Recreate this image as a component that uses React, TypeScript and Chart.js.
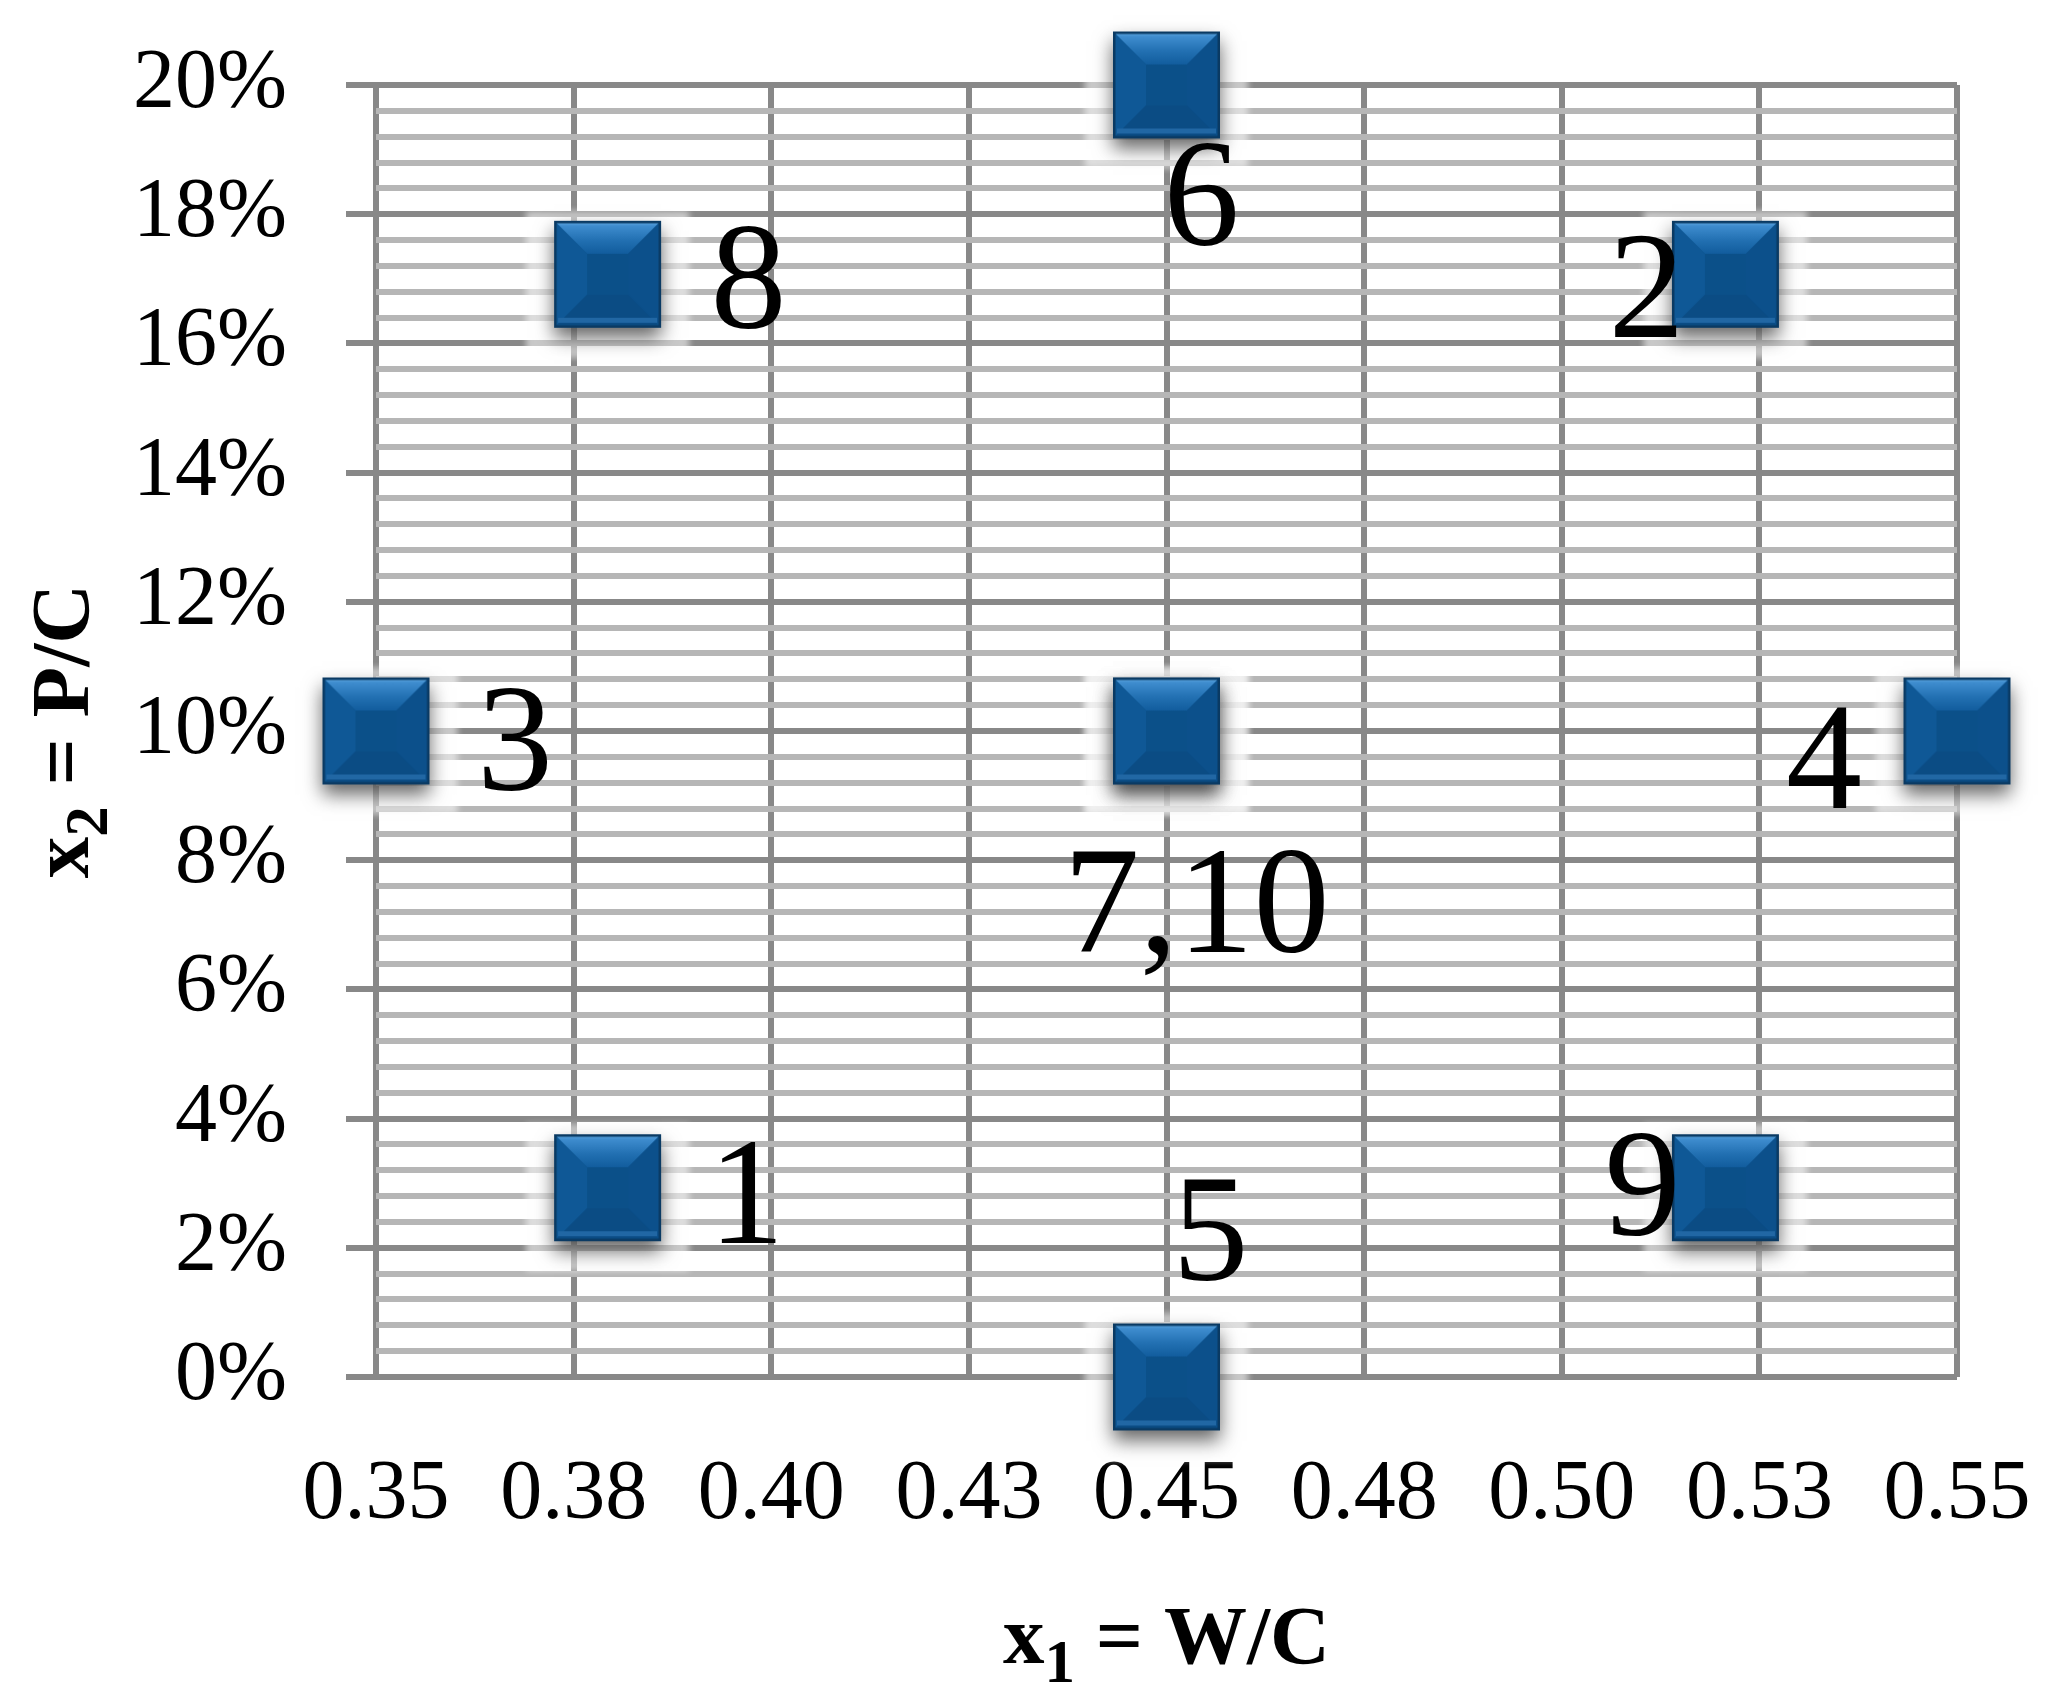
import React, { useEffect, useRef } from "react";
import { Chart, registerables } from "chart.js";

Chart.register(...registerables);

// ---- Data (central composite design runs) ----
const runLabels = ["1", "2", "3", "4", "5", "6", "7,10", "8", "9", ""];
const wcRatio = [0.3793, 0.5207, 0.35, 0.55, 0.45, 0.45, 0.45, 0.3793, 0.5207, 0.45];
const pcPercent = [2.93, 17.07, 10, 10, 0, 20, 10, 17.07, 2.93, 10];

const xTickValues = [0.35, 0.375, 0.4, 0.425, 0.45, 0.475, 0.5, 0.525, 0.55];
const xTickLabels = ["0.35", "0.38", "0.40", "0.43", "0.45", "0.48", "0.50", "0.53", "0.55"];
const yTickValues = [0, 2, 4, 6, 8, 10, 12, 14, 16, 18, 20];
const yTickLabels = ["0%", "2%", "4%", "6%", "8%", "10%", "12%", "14%", "16%", "18%", "20%"];
const yMinorStep = 0.4;

// label placement (pixel offsets from each marker centre)
const labelDx = [139, -79, 139, -133, 44, 35, 30, 141, -83, 0];
const labelDy = [15, 23, 19, 37, -137, 120, 181, 14, 7, 0];

// ---- Layout / style ----
const W = 2052;
const H = 1707;
const PLOT_LEFT = 376;
const PLOT_RIGHT = 1957;
const PLOT_TOP = 85;
const PLOT_BOTTOM = 1377;
const FONT = '"Liberation Serif", "Times New Roman", serif';
const TICK_SIZE = 84;
const LABEL_SIZE = 152;
const TITLE_SIZE = 83;
const MAJOR = "#888888";
const MINOR = "#b6b6b6";

const isMajorY = (v: number) => Math.abs(v / 2 - Math.round(v / 2)) < 1e-6;

function makeMarker(): HTMLCanvasElement {
  const s = 107;
  const pad = 46;
  const size = s + pad * 2;
  const c = document.createElement("canvas");
  c.width = size;
  c.height = size;
  const g = c.getContext("2d")!;
  const x0 = pad;
  const y0 = pad;
  // soft white halo
  g.save();
  g.filter = "blur(3px)";
  g.fillStyle = "rgba(255,255,255,0.55)";
  g.fillRect(x0 - 28, y0 - 10, s + 56, s + 40);
  g.restore();
  // drop shadow
  g.save();
  g.shadowColor = "rgba(0,0,0,0.6)";
  g.shadowBlur = 18;
  g.shadowOffsetY = 10;
  g.fillStyle = "#0b4f88";
  g.fillRect(x0, y0, s, s);
  g.restore();
  const b = 33;
  const poly = (pts: number[][], fill: string | CanvasGradient) => {
    g.beginPath();
    g.moveTo(pts[0][0], pts[0][1]);
    for (let i = 1; i < pts.length; i++) g.lineTo(pts[i][0], pts[i][1]);
    g.closePath();
    g.fillStyle = fill;
    g.fill();
  };
  const grd = g.createLinearGradient(0, y0, 0, y0 + b);
  grd.addColorStop(0, "#6fb2e6");
  grd.addColorStop(0.15, "#3f8dcf");
  grd.addColorStop(0.6, "#2270b2");
  grd.addColorStop(1, "#125d9e");
  poly([[x0, y0], [x0 + s, y0], [x0 + s - b, y0 + b], [x0 + b, y0 + b]], grd);
  poly([[x0, y0], [x0 + b, y0 + b], [x0 + b, y0 + s - b], [x0, y0 + s]], "#0f5896");
  poly([[x0 + s, y0], [x0 + s, y0 + s], [x0 + s - b, y0 + s - b], [x0 + s - b, y0 + b]], "#0c508b");
  poly([[x0, y0 + s], [x0 + b, y0 + s - b], [x0 + s - b, y0 + s - b], [x0 + s, y0 + s]], "#0b4c84");
  g.fillStyle = "#0b5089";
  g.fillRect(x0 + b, y0 + b, s - 2 * b, s - 2 * b);
  g.fillStyle = "#2167a4";
  g.fillRect(x0 + 4, y0 + s - 10, s - 8, 5);
  g.strokeStyle = "#0a3a63";
  g.lineWidth = 2.5;
  g.strokeRect(x0 + 1.25, y0 + 1.25, s - 2.5, s - 2.5);
  return c;
}

function drawSubTitle(
  ctx: CanvasRenderingContext2D,
  cx: number,
  baseY: number,
  main: string,
  sub: string,
  rest: string
) {
  const big = `bold ${TITLE_SIZE}px ${FONT}`;
  const small = `bold ${Math.round(TITLE_SIZE * 0.74)}px ${FONT}`;
  ctx.font = big;
  const w1 = ctx.measureText(main).width;
  const w3 = ctx.measureText(rest).width;
  ctx.font = small;
  const w2 = ctx.measureText(sub).width;
  const total = w1 + w2 + w3;
  let x = cx - total / 2;
  ctx.textAlign = "left";
  ctx.textBaseline = "alphabetic";
  ctx.fillStyle = "#000";
  ctx.font = big;
  ctx.fillText(main, x, baseY);
  x += w1;
  ctx.font = small;
  ctx.fillText(sub, x, baseY + 19);
  x += w2;
  ctx.font = big;
  ctx.fillText(rest, x, baseY);
}

const annotPlugin = {
  id: "annot",
  afterDatasetsDraw(chart: any) {
    const ctx: CanvasRenderingContext2D = chart.ctx;
    const meta = chart.getDatasetMeta(0);
    ctx.save();
    ctx.fillStyle = "#000";
    ctx.font = `${LABEL_SIZE}px ${FONT}`;
    ctx.textAlign = "center";
    ctx.textBaseline = "middle";
    meta.data.forEach((el: any, i: number) => {
      if (runLabels[i]) ctx.fillText(runLabels[i], el.x + labelDx[i], el.y + labelDy[i]);
    });
    ctx.restore();
  },
  afterDraw(chart: any) {
    const ctx: CanvasRenderingContext2D = chart.ctx;
    const area = chart.chartArea;
    ctx.save();
    drawSubTitle(ctx, (area.left + area.right) / 2, 1663, "x", "1", " = W/C");
    ctx.restore();
    ctx.save();
    ctx.translate(88, (area.top + area.bottom) / 2);
    ctx.rotate(-Math.PI / 2);
    drawSubTitle(ctx, 0, 0, "x", "2", " = P/C");
    ctx.restore();
  },
};

export default function App() {
  const ref = useRef<HTMLCanvasElement | null>(null);
  useEffect(() => {
    if (!ref.current) return;
    const marker = makeMarker();
    const points = wcRatio.map((x, i) => ({ x, y: pcPercent[i] }));
    const chart = new Chart(ref.current, {
      type: "scatter",
      data: {
        datasets: [
          {
            data: points,
            pointStyle: marker as any,
            pointRadius: 54,
            pointHoverRadius: 54,
            showLine: false,
            clip: false as any,
          },
        ],
      },
      options: {
        responsive: false,
        animation: false,
        events: [],
        layout: {
          padding: { top: PLOT_TOP, right: W - PLOT_RIGHT, bottom: 0, left: 0 },
        },
        plugins: {
          legend: { display: false },
          tooltip: { enabled: false },
        },
        scales: {
          x: {
            type: "linear",
            min: xTickValues[0],
            max: xTickValues[xTickValues.length - 1],
            afterBuildTicks: (axis: any) => {
              axis.ticks = xTickValues.map((v) => ({ value: v }));
            },
            afterFit: (axis: any) => {
              axis.height = H - PLOT_BOTTOM;
              axis.paddingLeft = 0;
              axis.paddingRight = 0;
            },
            grid: {
              color: MAJOR,
              lineWidth: 6,
              drawTicks: false,
            },
            border: { display: false },
            ticks: {
              autoSkip: false,
              maxRotation: 0,
              minRotation: 0,
              padding: 69,
              color: "#000",
              font: { family: FONT, size: TICK_SIZE },
              callback: (_v: any, i: number) => xTickLabels[i],
            },
            title: { display: false },
          },
          y: {
            type: "linear",
            min: yTickValues[0],
            max: yTickValues[yTickValues.length - 1],
            afterBuildTicks: (axis: any) => {
              const n = Math.round((yTickValues[yTickValues.length - 1] - yTickValues[0]) / yMinorStep);
              const t: { value: number }[] = [];
              for (let i = 0; i <= n; i++) t.push({ value: yTickValues[0] + i * yMinorStep });
              axis.ticks = t;
            },
            afterFit: (axis: any) => {
              axis.width = PLOT_LEFT;
              axis.paddingTop = 0;
              axis.paddingBottom = 0;
            },
            grid: {
              color: (c: any) => (c.tick && isMajorY(c.tick.value) ? MAJOR : MINOR),
              tickColor: (c: any) => (c.tick && isMajorY(c.tick.value) ? MAJOR : "rgba(0,0,0,0)"),
              lineWidth: 6,
              tickWidth: 6,
              tickLength: 30,
            },
            border: { display: false },
            ticks: {
              autoSkip: false,
              padding: 59,
              color: "#000",
              font: { family: FONT, size: TICK_SIZE },
              callback: (v: any) => {
                const num = Number(v);
                if (!isMajorY(num)) return "";
                const idx = yTickValues.indexOf(Math.round(num));
                return idx >= 0 ? yTickLabels[idx] : "";
              },
            },
            title: { display: false },
          },
        },
      } as any,
      plugins: [annotPlugin],
    });
    return () => chart.destroy();
  }, []);
  return (
    <div style={{ position: "absolute", left: 0, top: 0, width: W, height: H, background: "#fff" }}>
      <canvas ref={ref} width={W} height={H} style={{ display: "block", width: W, height: H }} />
    </div>
  );
}
